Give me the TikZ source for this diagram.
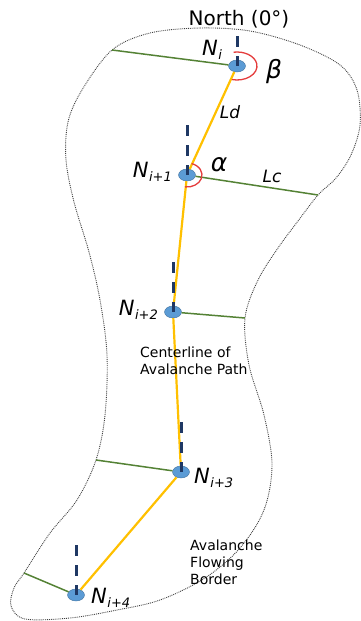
\documentclass[tikz,border=0pt]{standalone}
\usepackage{fontspec}
\setmainfont{DejaVu Sans}
\usetikzlibrary{positioning,shapes.geometric}

\definecolor{nodeblue}{RGB}{91,155,213}
\definecolor{pathyellow}{RGB}{255,192,0}
\definecolor{crossgreen}{RGB}{84,130,53}
\definecolor{headnavy}{RGB}{31,56,100}
\definecolor{anglered}{RGB}{228,60,60}

\newcommand{\nlab}[1]{\textit{N}\kern0.5pt\raisebox{-0.35ex}{\fontsize{13}{13}\selectfont\itshape #1}}

\begin{document}
\begin{tikzpicture}[x=1pt, y=-1pt,
  nd/.style={ellipse, draw=nodeblue!75!black, line width=0.4pt, fill=nodeblue,
             minimum width=17pt, minimum height=12pt, inner sep=0pt},
  bord/.style={densely dotted, draw=black!75, line width=0.9pt},
  cline/.style={draw=pathyellow, line width=2.2pt},
  cross/.style={draw=crossgreen, line width=1.5pt},
  hdg/.style={draw=headnavy, line width=3pt, dash pattern=on 11pt off 9pt},
  ang/.style={draw=anglered, line width=1.3pt},
  lbl/.style={font=\fontsize{14}{17}\selectfont, align=left, inner sep=0pt},
  nlbl/.style={font=\fontsize{21}{21}\selectfont, inner sep=0pt},
  sym/.style={font=\fontsize{17}{17}\selectfont\itshape, inner sep=0pt},
  grk/.style={font=\fontsize{25}{25}\selectfont\itshape, inner sep=0pt}]
  \useasboundingbox (0,0) rectangle (361,621);
  % border points where the cross sections end
  \coordinate (b0) at (112,50);
  \coordinate (b1) at (318,195);
  \coordinate (b2) at (245,318);
  \coordinate (b3) at (96,460);
  \coordinate (b4) at (24,573);
  % avalanche flowing border
  \draw[bord] plot[smooth cycle, tension=0.55] coordinates {
    (150,33) (200,28) (250,31) (300,45) (340,65) (357,90) (360,125) (351,155)
    (336,178) (318,195) (298,221) (278,248) (258,280) (245,318) (249,365)
    (264,415) (272,465) (264,510) (240,548) (205,578) (160,600) (117,610)
    (70,618) (25,619) (11,606) (14,588) (24,573) (50,533) (77,500) (96,460)
    (105,415) (107,355) (100,300) (89,252) (74,202) (66,160) (68,122)
    (82,90) (112,50)};
  % centerline nodes
  \node[nd] (n0) at (237,66) {};
  \node[nd] (n1) at (187,175) {};
  \node[nd] (n2) at (173,312) {};
  \node[nd] (n3) at (181,472) {};
  \node[nd] (n4) at (76,595) {};
  % cross sections
  \draw[cross] (b0) -- (n0);
  \draw[cross] (n1) -- (b1);
  \draw[cross] (n2) -- (b2);
  \draw[cross] (b3) -- (n3);
  \draw[cross] (b4) -- (n4);
  % centerline
  \foreach \a/\b in {n0/n1, n1/n2, n2/n3, n3/n4}
    \draw[cline] (\a) -- (\b);
  % north directions
  \draw[hdg] (n0.center) ++(0,-30) -- (n0.center);
  \foreach \n in {n1, n2, n3, n4}
    \draw[hdg] (\n.center) ++(0,-50) -- (\n.center);
  % angles
  \draw[ang] (n0) ++(-100:20 and 14) arc[start angle=-100, end angle=105, x radius=20, y radius=14];
  \draw[ang] (n1) ++(-72:15 and 12) arc[start angle=-72, end angle=97, x radius=15, y radius=12];
  % labels
  \node[font=\fontsize{20}{20}\selectfont, inner sep=0pt] (north) at (239,19) {North (0°)};
  \node[nlbl] (l0) at (212,50) {\nlab{i}};
  \node[nlbl, anchor=east] (l1) at (172,172) {\nlab{i+1}};
  \node[nlbl, anchor=east] (l2) at (158,310) {\nlab{i+2}};
  \node[nlbl, anchor=west] (l3) at (194,478) {\nlab{i+3}};
  \node[nlbl, anchor=west] (l4) at (91,598) {\nlab{i+4}};
  \node[grk] (beta) at (274,72) {β};
  \node[grk] (alpha) at (219,165) {α};
  \node[sym] (ld) at (230,112) {Ld};
  \node[sym] (lc) at (272,176) {Lc};
  \node[lbl, anchor=north west] (cl) at (140,347) {Centerline of\\Avalanche Path};
  \node[lbl, anchor=north west] (fb) at (190,540) {Avalanche\\Flowing\\Border};
\end{tikzpicture}
\end{document}
